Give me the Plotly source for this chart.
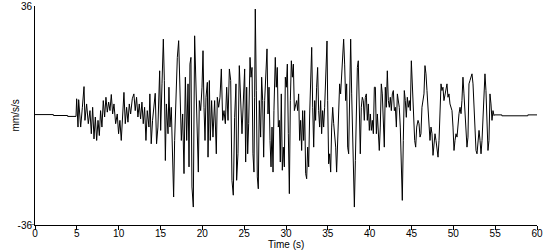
import plotly.graph_objects as go

# Time (s) and ground acceleration (mm/s/s)
time_s = [
    0, 2.2, 2.2, 3.9, 3.9, 4.9,
    4.98, 5.14, 5.22, 5.46, 5.66, 5.86, 5.97, 6.17, 6.37, 6.57, 6.73, 6.89, 7.05, 7.21,
    7.37, 7.53, 7.69, 7.84, 8.00, 8.16, 8.32, 8.48, 8.64, 8.80, 8.96, 9.12, 9.28, 9.44,
    9.64, 9.83, 9.99, 10.15, 10.31, 10.47, 10.63, 10.79, 10.95, 11.11, 11.27, 11.43, 11.63,
    11.82, 11.98, 12.14, 12.30, 12.46, 12.62, 12.78, 12.94, 13.10, 13.26, 13.42, 13.62,
    13.73, 13.89, 14.05, 14.21, 14.37, 14.53, 14.69,
    14.90, 15.02, 15.18, 15.34, 15.46, 15.58, 15.70, 15.90, 16.01, 16.13, 16.29, 16.45,
    16.57, 16.69, 16.85, 17.01, 17.17, 17.33, 17.49, 17.65, 17.81, 17.97, 18.13, 18.29,
    18.41, 18.52, 18.64, 18.76, 18.92, 19.08, 19.24, 19.40, 19.52, 19.64, 19.80, 19.96,
    20.08, 20.20, 20.32, 20.44, 20.60, 20.68, 20.84, 20.95, 21.11, 21.27, 21.47, 21.67,
    21.79, 21.95, 22.11, 22.27, 22.43, 22.59, 22.75, 22.91, 23.07, 23.23, 23.39, 23.54,
    23.70, 23.86, 24.02, 24.10, 24.26, 24.42, 24.58, 24.74,
    25.06, 25.18, 25.30, 25.42, 25.54, 25.70, 25.82, 25.94, 26.05, 26.17, 26.25, 26.33,
    26.45, 26.57, 26.69, 26.81, 26.97, 27.09, 27.21, 27.33, 27.45, 27.61, 27.73, 27.85,
    27.97, 28.09, 28.21, 28.33, 28.45, 28.56, 28.72, 28.84, 28.96, 29.08, 29.20, 29.32,
    29.44, 29.56, 29.68, 29.80, 29.92, 30.04, 30.16, 30.28, 30.40, 30.52, 30.64, 30.76,
    30.88, 31.00, 31.11, 31.27, 31.39, 31.51, 31.63, 31.75, 31.87, 31.99, 32.11, 32.23,
    32.35, 32.47, 32.59, 32.71, 32.83, 32.95, 33.07, 33.19, 33.31, 33.43, 33.54, 33.66,
    33.78, 33.90, 34.02, 34.14, 34.26, 34.38, 34.50, 34.62, 34.78, 34.90,
    34.98, 35.10, 35.22, 35.34, 35.46, 35.58, 35.70, 35.82, 35.94, 36.05, 36.17, 36.29,
    36.41, 36.53, 36.65, 36.77, 36.89, 37.01, 37.13, 37.25, 37.37, 37.49, 37.61, 37.73,
    37.85, 37.97, 38.09, 38.17, 38.29, 38.41, 38.53, 38.64, 38.76, 38.88, 39.00, 39.12,
    39.24, 39.36, 39.48, 39.60, 39.72, 39.84, 39.96, 40.08, 40.20, 40.32, 40.44, 40.56,
    40.68, 40.80, 40.92, 41.03, 41.15, 41.27, 41.39, 41.51, 41.63, 41.75, 41.87, 41.99,
    42.11, 42.23, 42.35, 42.47, 42.59, 42.71, 42.83, 42.95, 43.07, 43.19, 43.31, 43.43,
    43.54, 43.66, 43.78, 43.90, 44.02, 44.14, 44.26, 44.38, 44.50, 44.62, 44.74, 44.86,
    44.98, 45.10, 45.22, 45.38, 45.50, 45.62, 45.78, 45.90, 46.02, 46.13, 46.25, 46.37,
    46.49, 46.61, 46.73, 46.85, 46.97, 47.09, 47.21, 47.33, 47.45, 47.57, 47.69, 47.81,
    47.93, 48.05, 48.17, 48.29, 48.41, 48.53, 48.64, 48.76, 48.88, 49.00, 49.12, 49.24,
    49.36, 49.48, 49.60, 49.72, 49.84, 49.96, 50.08, 50.20, 50.32, 50.44, 50.56, 50.68,
    50.80, 50.92, 51.03, 51.15, 51.27, 51.39, 51.51, 51.63, 51.75, 51.87, 51.99, 52.11,
    52.23, 52.35, 52.47, 52.59, 52.71, 52.83, 52.95, 53.07, 53.19, 53.31, 53.43, 53.55,
    53.66, 53.78, 53.90, 54.02, 54.14, 54.26, 54.38, 54.50, 54.62, 54.74, 54.86,
    54.9, 55.8, 55.8, 58.9, 58.9, 60,
]

accel = [
    0.3, 0.3, 0, 0, -0.3, -0.3,
    5.5, -3.8, 5.2, -3.8, 2.7, 9.5, -1.6, 3.8, -2.7, 1.6, -6.0, 2.7, -7.7, -0.5,
    -8.2, -1.6, -6.6, 1.6, -3.8, 4.9, -0.5, 6.0, 1.1, 4.4, 1.6, 6.9, 0.5, 3.8,
    -2.7, 0.5, -6.0, -1.6, -8.2, -0.5, 7.6, -2.7, 2.7, -2.2, 3.8, 0.5, 5.5,
    7.1, 1.6, 6.0, -0.5, 3.8, -1.1, 4.4, -2.7, 2.7, -8.2, 1.6, -3.8,
    7.1, -9.3, -1.6, 3.8, 7.3, -9.3, -3.8,
    14.7, -4.9, 10.4, 25.1, 11.5, -14.8, 3.8, -6.0, 9.3, -3.8, 2.7, -12.6,
    -26.8, -8.2, 6.0, 19.1, 24.6, 9.3, -8.2, 0.5, -19.1, 12.6, -8.2, 10.4,
    -16.9, 16.9, 19.1, -23.5, -30.1, 26.2, 8.2, -6.0, -18.6, 4.9, 1.6, 9.3,
    21.3, 2.7, -8.2, 6.0, 10.9, -13.7, 11.5, -8.2, 4.9, -7.1, 4.9, -12.6,
    6.0, 2.7, 6.0, 15.3, -1.6, 1.6, -2.7, 9.3, -1.6, 15.3, 11.5, -21.3,
    -26.2, -0.6, 10.4, -21.3, -12.6, 16.4, 1.6, -6.0,
    15.3, -15.3, 9.3, -12.6, -2.7, 19.1, 12.6, 15.8, -12.6, -18.6, 6.0, 35.0,
    8.2, -20.2, -24.1, 4.9, -7.1, 12.6, 4.9, -13.7, 4.9, 14.7, 21.9, 0.5,
    9.3, -8.2, -16.9, -3.8, -18.6, 1.6, 19.1, 9.3, 15.8, -3.8, -1.6, -15.3,
    7.1, -18.0, -10.4, -16.9, 12.6, 9.3, 16.9, -6.0, -25.7, 4.9, 18.0, 12.6,
    16.9, 1.6, 2.7, 4.9, 1.6, 7.1, -8.2, -1.6, -11.5, 1.6, -8.2, 1.6,
    -19.1, -20.8, -10.4, -16.9, 0.5, 12.6, 22.4, 2.7, -10.4, 4.9, -1.6, 9.3,
    15.8, 1.6, -3.8, 4.9, -6.0, 1.6, -3.8, 2.7, 15.8, 24.5,
    4.9, -15.9, -12.6, -18.6, -3.8, 2.7, -2.7, -6.0, -10.4, -18.6, -9.3, 1.6,
    10.4, 7.1, 12.6, 15.8, 25.1, 16.9, 4.9, 10.4, -10.4, -12.6, 4.9, 25.1,
    7.1, -8.2, -25.7, -30.1, -14.8, -0.6, 15.8, 18.0, 4.9, -12.6, 2.7, 6.0,
    4.9, -1.6, 6.0, 7.1, -1.6, 3.8, -4.9, 0.5, -4.9, -1.6, -6.0, 9.3,
    9.3, -6.0, 0.5, -6.0, -11.5, -3.8, 10.4, 7.1, -3.8, -10.4, 9.3, 2.7,
    14.7, 4.9, 2.7, 6.0, 1.6, 7.1, 8.2, 1.6, 2.7, -3.8, 7.1, 4.9,
    2.7, -3.8, -16.9, -27.9, -8.2, 8.2, 4.9, -0.6, 6.0, 2.7, 4.9, 1.6,
    18.0, 9.3, 2.7, -8.2, -10.4, -3.8, -1.6, -2.7, -7.1, -6.0, 2.7, 4.9,
    7.1, 16.4, 13.7, 8.2, 2.7, -3.8, -8.2, -3.8, -6.0, -13.1, -8.2, -6.0,
    -8.2, -12.6, -13.7, -8.2, 2.7, 10.4, 8.2, 9.3, 4.9, 7.1, 8.2, 10.4,
    6.0, 7.1, 3.8, 2.7, 1.6, -3.8, -11.5, -8.2, -6.0, -7.1, -2.7, 0.6,
    2.7, 0.6, 4.9, 12.6, 7.1, 0.6, -4.9, -10.4, -7.1, 10.4, 11.5, 12.6,
    13.7, 10.4, 2.7, -4.9, -11.5, -12.6, -8.2, -4.9, -8.2, -12.6, -8.2, -1.6,
    8.2, 13.7, 8.2, -4.9, -11.5, -8.2, 7.1, 3.8, -1.6, 1.6, 0,
    0.2, 0.2, -0.1, -0.1, 0.2, 0.2,
]

x_ticks = [0, 5, 10, 15, 20, 25, 30, 35, 40, 45, 50, 55, 60]
y_ticks = [-36, 36]

font_family = "Liberation Sans, Arial, sans-serif"

fig = go.Figure()
fig.add_trace(go.Scatter(
    x=time_s, y=accel, mode="lines",
    line=dict(color="black", width=1),
    hoverinfo="skip", showlegend=False,
))

fig.update_layout(
    width=550, height=250,
    margin=dict(l=35, r=13, t=6, b=25),
    paper_bgcolor="white", plot_bgcolor="white",
    font=dict(family=font_family, size=10, color="black"),
    xaxis=dict(
        range=[0, 60], tickvals=x_ticks, ticktext=[str(v) for v in x_ticks],
        showgrid=False, zeroline=False, showline=True, linecolor="black", linewidth=1,
        ticks="outside", ticklen=4, tickcolor="black", tickwidth=1,
        tickfont=dict(size=10), automargin=False, ticklabelstandoff=-5,
        ticklabeloverflow="allow",
    ),
    yaxis=dict(
        range=[-36, 36], tickvals=y_ticks, ticktext=["-36", "36"],
        showgrid=False, zeroline=False, showline=True, linecolor="black", linewidth=1,
        ticks="", tickfont=dict(size=10), automargin=False,
        ticklabeloverflow="allow",
    ),
    shapes=[dict(type="line", xref="paper", yref="y", x0=-0.01, x1=0, y0=-36, y1=-36,
                 line=dict(color="black", width=1))],
    annotations=[
        dict(text="Time (s)", xref="paper", yref="paper", x=0.5, y=0,
             xanchor="center", yanchor="bottom", yshift=-26, borderpad=0,
             showarrow=False, font=dict(size=10)),
        dict(text="mm/s/s", xref="paper", yref="paper", x=0, y=0.5,
             xanchor="center", yanchor="middle", xshift=-20, textangle=-90,
             showarrow=False, font=dict(size=10)),
    ],
)

fig.write_html("out.html")
